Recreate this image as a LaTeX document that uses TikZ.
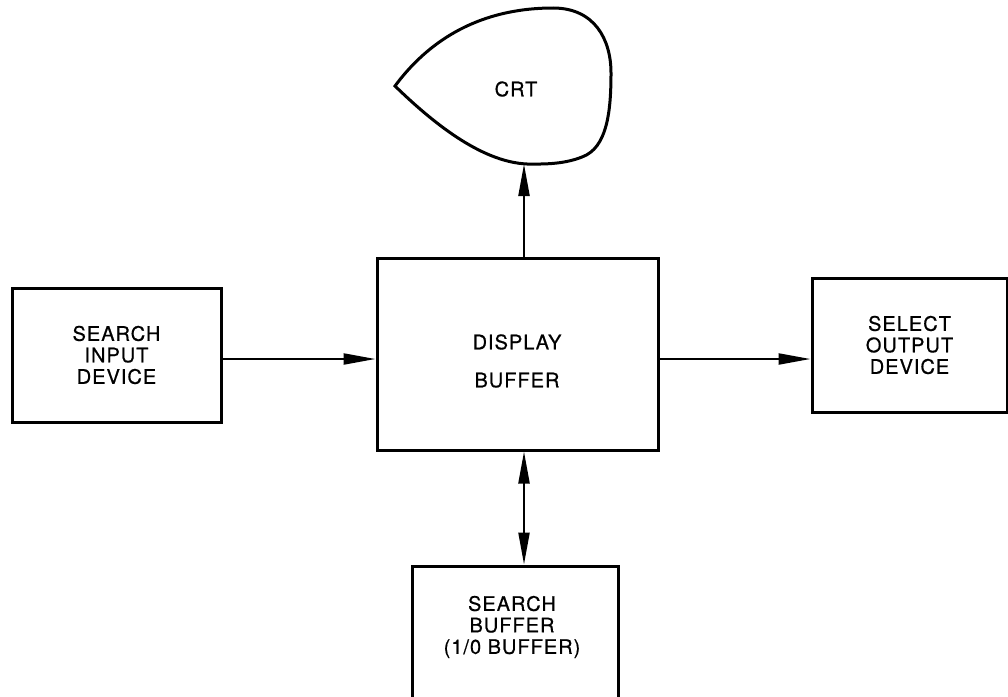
\documentclass[tikz,border=0pt]{standalone}
\usepackage{fontspec}
\setmainfont[LetterSpace=5,FakeBold=0.6]{TeX Gyre Heros}
\usetikzlibrary{arrows.meta,calc}
\begin{document}
\begin{tikzpicture}[x=1pt,y=-1pt,
  txt/.style={align=center, inner sep=0pt, font=\fontsize{20}{21.5}\selectfont},
  box/.style={txt, draw, line width=3pt, rectangle},
  conn/.style={line width=2.2pt, -{Triangle[length=32pt,width=11pt]}},
  dconn/.style={line width=2.2pt, {Triangle[length=32pt,width=11pt]}-{Triangle[length=32pt,width=11pt]}}
]
\useasboundingbox (0,0) rectangle (1008,696);

% boxes
\node[box, minimum width=209pt, minimum height=134pt] (sid) at (116.5,355) {SEARCH\\INPUT\\DEVICE};
\node[box, minimum width=281pt, minimum height=192pt] (disp) at (517.5,354) {};
\node[txt, font=\fontsize{20}{38}\selectfont] (dispt) at (517,361) {DISPLAY\\BUFFER};
\node[box, minimum width=195pt, minimum height=134pt] (sod) at (909.5,345) {SELECT\\OUTPUT\\DEVICE};
\node[box, minimum width=206pt, minimum height=150pt] (sb) at (515,641) {};
\node[txt] (sbt) at (512,627) {SEARCH\\BUFFER\\(1/0 BUFFER)};

% CRT
\draw[line width=3pt, line join=miter]
  (395,86) .. controls (435,32) and (490,8) .. (553,8)
  .. controls (595,8) and (611,40) .. (611,73)
  .. controls (611,112) and (607,148) .. (582,157)
  .. controls (562,165) and (540,164) .. (527,164)
  .. controls (480,162) and (430,120) .. (395,86) -- cycle;
\node[txt] (crt) at (516,89) {CRT};
\coordinate (crtb) at (524,164);

% connectors
\draw[conn] ([yshift=-4pt]sid.east) -- ([yshift=-4pt]sid.east -| disp.west);
\draw[conn] ([yshift=-5pt]disp.east) -- ([yshift=-5pt]disp.east -| sod.west);
\draw[conn] ([xshift=6.5pt]disp.north) -- (crtb);
\draw[dconn] ([xshift=6.5pt]disp.south) -- ([xshift=6.5pt]disp.south |- sb.north);
\end{tikzpicture}
\end{document}
